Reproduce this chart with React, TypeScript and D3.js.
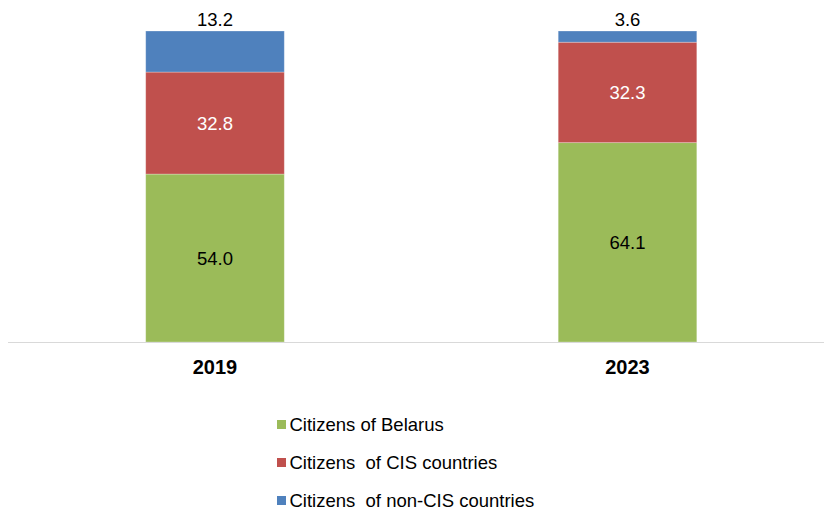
import React from "react";
import * as d3 from "d3";

const categories = ["2019", "2023"];
const seriesNames = ["Citizens of Belarus", "Citizens  of CIS countries", "Citizens  of non-CIS countries"];
const belarus = [54.0, 64.1];
const cis = [32.8, 32.3];
const nonCis = [13.2, 3.6];
const colors = ["#9BBB59", "#C0504D", "#4F81BD"];
const labelColors = ["#000000", "#ffffff", "#000000"];

const W = 824;
const H = 509;

export default function App() {
  const series = [belarus, cis, nonCis];
  const rows = categories.map((c, i) => ({ cat: c, b: belarus[i], c: cis[i], n: nonCis[i] }));
  const stack = d3.stack<any>().keys(["b", "c", "n"])(rows);

  const x = d3.scaleBand<string>().domain(categories).range([8.75, 833.75]).paddingInner(0.664).paddingOuter(0.332);
  const y = d3.scaleLinear().domain([0, 100]).range([342, 31]);

  const font = "'Liberation Sans', Arial, sans-serif";

  return (
    <svg width={W} height={H} style={{ position: "absolute", left: 0, top: 0 }} fontFamily={font}>
      <rect width={W} height={H} fill="#fff" />
      {stack.map((s, si) =>
        s.map((d, i) => {
          const x0 = x(categories[i])!;
          const y0 = y(d[1]);
          const h = y(d[0]) - y(d[1]);
          const isTop = si === stack.length - 1;
          return (
            <g key={`${si}-${i}`}>
              <rect x={x0} y={y0} width={x.bandwidth()} height={h} fill={colors[si]} stroke="#ffffff" strokeOpacity={0.35} strokeWidth={0.8} />
              <text
                x={x0 + x.bandwidth() / 2}
                y={isTop ? y0 - 5.5 : y0 + h / 2 + 6.5}
                textAnchor="middle"
                fontSize={18.5}
                fill={isTop ? "#000" : labelColors[si]}
              >
                {series[si][i].toFixed(1)}
              </text>
            </g>
          );
        })
      )}
      <line x1={8} x2={W} y1={342.5} y2={342.5} stroke="#D9D9D9" strokeWidth={1.2} />
      {categories.map((c) => (
        <text key={c} x={x(c)! + x.bandwidth() / 2} y={373.5} textAnchor="middle" fontSize={20} fontWeight="bold" fill="#000">
          {c}
        </text>
      ))}
      {seriesNames.map((n, i) => (
        <g key={n} transform={`translate(277, ${420 + i * 38})`}>
          <rect x={0} y={0} width={9} height={9} fill={colors[i]} />
          <text x={12.5} y={10.7} fontSize={18.5} fill="#000" style={{ whiteSpace: "pre" }}>
            {n}
          </text>
        </g>
      ))}
    </svg>
  );
}
